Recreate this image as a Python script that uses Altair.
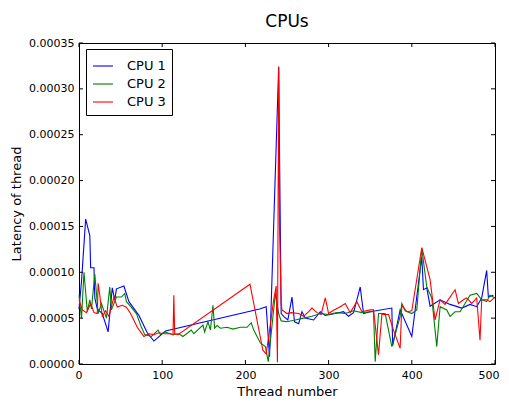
import altair as alt
import pandas as pd

# ---- data (y values in units of 1e-5 s) ----
cpu1_x = [0, 3, 8, 13, 14, 18, 19, 22, 28, 35, 40, 43, 45, 54, 60, 72, 82, 90, 104,
          217, 225, 229, 240, 243, 246, 251, 256, 259, 264, 268, 272, 282, 290, 296,
          308, 318, 324, 330, 338, 342, 350, 376, 377, 386, 400, 412, 414, 418, 422,
          434, 446, 460, 470, 478, 484, 490, 492, 498]
cpu1_y = [6.0, 9.0, 15.8, 14.0, 10.5, 10.5, 7.2, 6.0, 5.5, 3.5, 8.3, 7.0, 8.2, 8.5, 6.8, 5.3, 3.4, 2.5, 3.6,
          6.0, 6.25, 0.8, 32.4, 5.5, 5.2, 4.8, 7.3, 4.6, 4.4, 5.7, 5.0, 4.8, 5.7, 5.3,
          5.5, 5.7, 5.2, 5.6, 8.4, 5.5, 5.7, 6.1, 2.0, 5.9, 3.0, 11.7, 8.1, 8.3, 6.3,
          7.0, 6.5, 6.1, 6.5, 6.25, 7.2, 10.2, 7.3, 7.5]

cpu2_x = [0, 3, 6, 10, 13, 15, 19, 23, 27, 33, 37, 39, 45, 51, 55, 57, 61, 69, 75, 79,
          87, 95, 98, 103, 113, 120, 125, 135, 138, 149, 151, 155, 158, 161, 163, 166,
          170, 178, 185, 194, 202, 207, 210, 218, 224, 227.5, 236, 240, 243, 250, 260,
          270, 280, 290, 300, 310, 320, 330, 340, 350, 354, 356, 360, 368, 376, 386,
          388, 392, 400, 406, 412, 418, 424, 430, 434, 442, 446, 452, 458, 470, 478,
          484, 490, 494, 500]
cpu2_y = [7.5, 5.0, 10.0, 5.7, 7.0, 6.0, 9.8, 5.5, 6.6, 5.0, 8.4, 5.9, 7.3, 7.3, 7.7, 6.8, 6.4, 5.5, 4.0, 3.2,
          3.0, 3.7, 3.2, 3.5, 3.2, 3.3, 3.0, 3.7, 3.3, 4.25, 3.5, 4.6, 3.7, 6.4, 3.9, 4.2,
          3.9, 4.0, 3.8, 4.0, 4.0, 4.5, 3.7, 2.3, 1.9, 0.25, 7.7, 5.5, 4.7, 4.6, 4.8,
          5.0, 5.2, 5.5, 5.4, 5.6, 5.5, 5.8, 5.6, 5.7, 5.7, 0.25, 5.5, 5.5, 1.9, 5.2,
          6.6, 5.8, 5.5, 5.9, 12.6, 8.4, 7.2, 1.9, 6.25, 5.9, 5.2, 5.7, 5.7, 7.5, 7.7,
          7.0, 6.8, 7.5, 7.2]

cpu3_x = [0, 4, 9, 14, 18, 22, 23, 25, 28, 32, 36, 40, 42, 46, 52, 57, 62, 70, 74, 78,
          84, 90, 96, 103, 110, 113, 114, 115, 119, 205.5, 221, 225, 228, 234, 237,
          238.5, 240, 241, 243, 244, 250, 255, 264, 270, 276, 280, 286, 291, 296, 300,
          305, 314, 320, 326, 334, 340, 350, 354, 360, 364, 372, 378, 386, 388, 394,
          400, 412, 422, 428, 434, 440, 452, 456, 462, 466, 472, 478, 482, 484, 490,
          494, 500]
cpu3_y = [7.0, 5.9, 5.6, 6.6, 5.6, 5.5, 8.8, 7.5, 5.2, 5.8, 5.2, 6.6, 7.3, 6.2, 6.4, 6.2, 5.5, 4.0, 3.5, 3.0,
          3.3, 3.2, 3.4, 3.3, 3.3, 3.2, 7.5, 3.3, 3.2, 8.7, 1.5, 1.1, 3.0, 7.0, 8.5,
          0.2, 32.4, 15.0, 6.5, 5.9, 5.5, 5.6, 5.5, 5.2, 5.7, 6.1, 5.6, 5.4, 7.2, 5.5,
          5.8, 6.25, 6.6, 5.6, 6.8, 5.7, 5.9, 5.9, 1.0, 5.4, 5.4, 3.7, 1.7, 6.4, 5.7,
          5.8, 12.7, 9.2, 4.8, 7.0, 6.5, 8.1, 6.6, 7.0, 7.2, 6.6, 7.2, 2.6, 7.0, 7.0,
          6.8, 7.3]

series_names = ["CPU 1", "CPU 2", "CPU 3"]
series_colors = ["#0000ff", "#008000", "#ff0000"]
x_ticks = [0, 100, 200, 300, 400, 500]
y_ticks = [0, 0.00005, 0.0001, 0.00015, 0.0002, 0.00025, 0.0003, 0.00035]

rows = []
for name, xs, ys in zip(series_names, [cpu1_x, cpu2_x, cpu3_x], [cpu1_y, cpu2_y, cpu3_y]):
    for i, (a, b) in enumerate(zip(xs, ys)):
        rows.append({"series": name, "idx": i, "x": a, "y": b * 1e-5})
df = pd.DataFrame(rows)

W, H = 416, 321
FONT = "DejaVu Sans"
xscale = alt.Scale(domain=[0, 500], nice=False, zero=False)
yscale = alt.Scale(domain=[0, 0.00035], nice=False)

x_axis = alt.Axis(values=x_ticks, format="d", grid=False, ticks=False, domain=False,
                  labelFlush=True, labelFlushOffset=4, labelPadding=5, titlePadding=5,
                  labelFontSize=11, titleFontSize=13,
                  labelFont=FONT, titleFont=FONT, labelColor="black", titleColor="black",
                  titleFontWeight="normal")
y_axis = alt.Axis(values=y_ticks, format=".5f", grid=False, ticks=False, domain=False,
                  labelFlush=False, labelPadding=5, titlePadding=5, labelFontSize=11, titleFontSize=13,
                  labelFont=FONT, titleFont=FONT, labelColor="black", titleColor="black",
                  titleFontWeight="normal")

lines = alt.Chart(df).mark_line(strokeWidth=1.1).encode(
    x=alt.X("x:Q", scale=xscale, title="Thread number", axis=x_axis),
    y=alt.Y("y:Q", scale=yscale, title="Latency of thread", axis=y_axis),
    color=alt.Color("series:N", scale=alt.Scale(domain=series_names, range=series_colors),
                    legend=alt.Legend(title=None, orient="none", legendX=7, legendY=6,
                                      strokeColor="black", fillColor="white", padding=6,
                                      labelFontSize=13, labelFont=FONT, labelColor="black",
                                      symbolType="stroke", symbolSize=400, symbolStrokeWidth=1.1,
                                      rowPadding=0, labelOffset=13)),
    order=alt.Order("idx:Q"),
)

xt = pd.DataFrame({"v": x_ticks})
yt = pd.DataFrame({"v": y_ticks})
tick_bottom = alt.Chart(xt).mark_rule(color="black", strokeWidth=1).encode(
    x=alt.X("v:Q", scale=xscale, title="Thread number", axis=x_axis), y=alt.value(H), y2=alt.value(H - 4))
tick_top = alt.Chart(xt).mark_rule(color="black", strokeWidth=1).encode(
    x=alt.X("v:Q", scale=xscale, title="Thread number", axis=x_axis), y=alt.value(0), y2=alt.value(4))
tick_left = alt.Chart(yt).mark_rule(color="black", strokeWidth=1).encode(
    y=alt.Y("v:Q", scale=yscale, title="Latency of thread", axis=y_axis), x=alt.value(0), x2=alt.value(4))
tick_right = alt.Chart(yt).mark_rule(color="black", strokeWidth=1).encode(
    y=alt.Y("v:Q", scale=yscale, title="Latency of thread", axis=y_axis), x=alt.value(W), x2=alt.value(W - 4))

chart = alt.layer(lines, tick_bottom, tick_top, tick_left, tick_right).properties(
    width=W, height=H,
    title=alt.TitleParams("CPUs", fontSize=17, font=FONT, fontWeight="normal", color="black", offset=6),
    padding={"left": 71, "top": 35, "right": 6, "bottom": 50},
    autosize=alt.AutoSizeParams(type="none"),
    background="white",
).configure_view(stroke="black", strokeWidth=1)

chart.save("out.html", embed_options={"renderer": "svg", "actions": False})
